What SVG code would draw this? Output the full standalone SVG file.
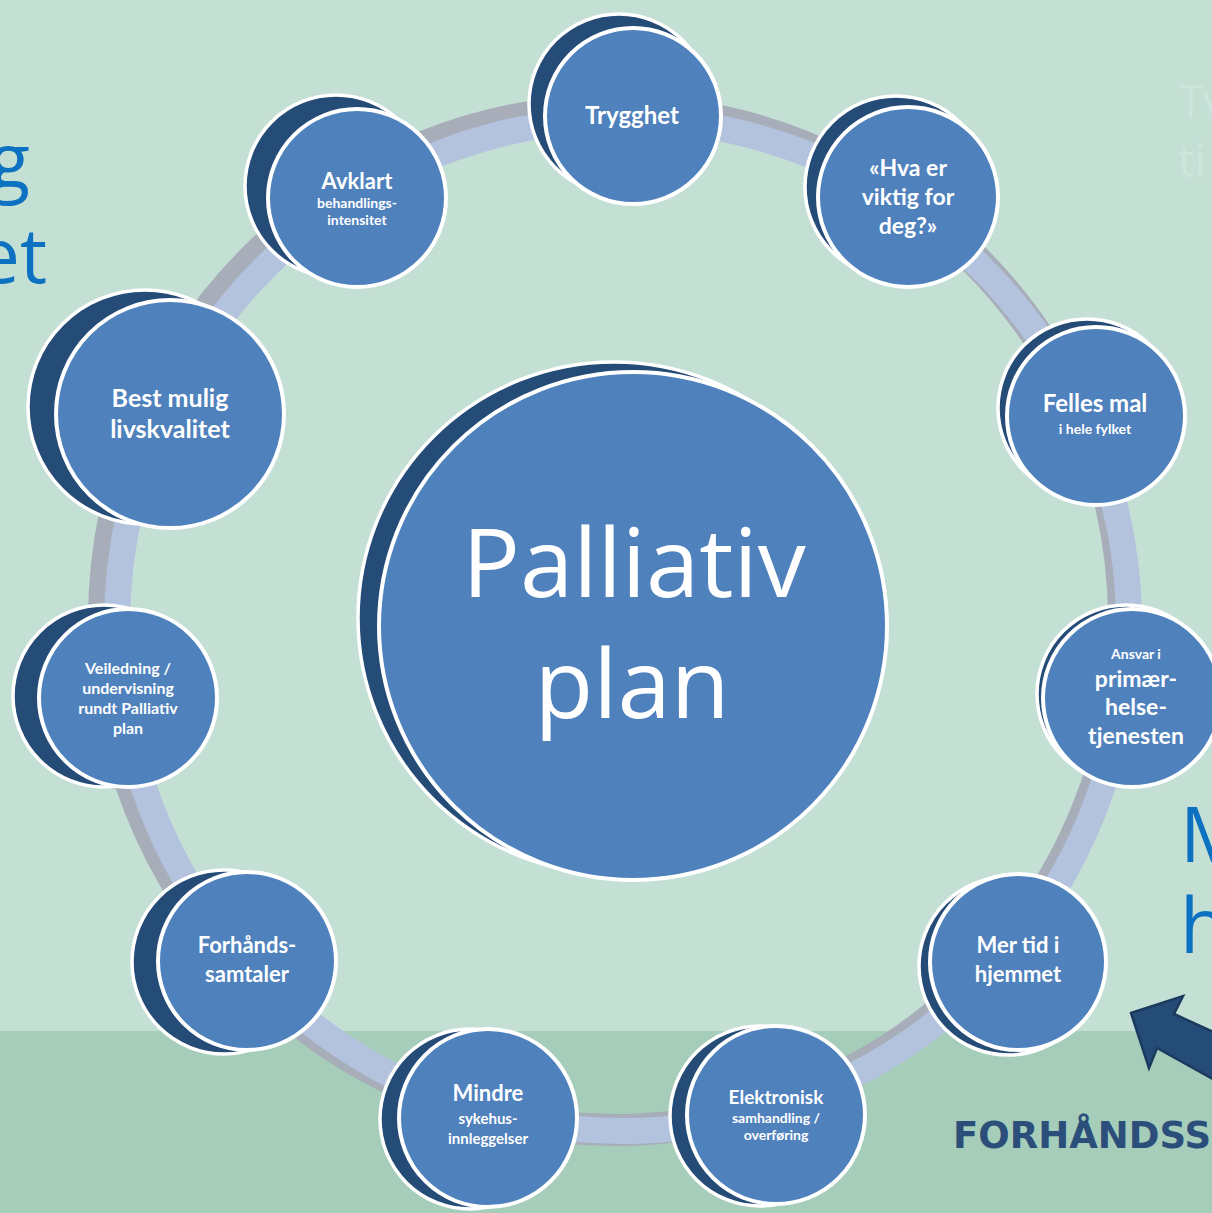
<svg xmlns="http://www.w3.org/2000/svg" width="1212" height="1213" viewBox="0 0 1212 1213">
  <style>
    .back { fill: #254b77; stroke: #ffffff; stroke-width: 3.5; }
    .front { fill: #4f81bd; stroke: #ffffff; stroke-width: 4; }
    .t { font-family: Lato, "Open Sans", "Liberation Sans", sans-serif; font-weight: 700; fill: #ffffff; text-anchor: middle; }
    .side { font-family: "Open Sans", "Liberation Sans", sans-serif; font-size: 76px; fill: #0b71c0; }
  </style>

  <!-- background -->
  <rect x="0" y="0" width="1212" height="1213" fill="#c4dfd3"/>
  <rect x="0" y="1031" width="1212" height="182" fill="#a5cdb9"/>

  <!-- partial side captions -->
  <text class="side" x="30" y="188" text-anchor="end">g</text>
  <text class="side" x="47" y="283" text-anchor="end">et</text>
  <text class="side" x="1180" y="862" font-size="70">M</text>
  <text class="side" x="1180" y="953" font-size="70">h</text>
  <text x="1178" y="118" font-family="'Open Sans', 'Liberation Sans', sans-serif" font-size="46" fill="#cde5db">Tv</text>
  <text x="1178" y="177" font-family="'Open Sans', 'Liberation Sans', sans-serif" font-size="46" fill="#cde5db">ti</text>

  <!-- connectors: the ring joining the nodes -->
  <g id="connectors">
    <circle cx="614" cy="620" r="510" fill="none" stroke="#a7adb9" stroke-width="32"/>
    <circle cx="623" cy="625" r="506" fill="none" stroke="#b3c3de" stroke-width="26"/>
  </g>

  <!-- centre node -->
  <g id="palliativ-plan">
    <circle class="back" cx="614" cy="618" r="256"/>
    <circle class="front" cx="633" cy="626" r="254"/>
    <text x="634" y="597" font-family="'Open Sans', 'Liberation Sans', sans-serif" font-size="96" fill="#ffffff" text-anchor="middle">Palliativ</text>
    <text x="632" y="718" font-family="'Open Sans', 'Liberation Sans', sans-serif" font-size="96" fill="#ffffff" text-anchor="middle">plan</text>
  </g>

  <g id="trygghet">
    <circle class="back" cx="619" cy="104" r="90"/>
    <circle class="front" cx="633" cy="116" r="88"/>
    <text class="t" x="632" y="124" font-size="24">Trygghet</text>
  </g>

  <g id="hva-er-viktig">
    <circle class="back" cx="896" cy="187" r="91"/>
    <circle class="front" cx="908" cy="197" r="90"/>
    <text class="t" x="908" y="176" font-size="23">«Hva er</text>
    <text class="t" x="908" y="205" font-size="23">viktig for</text>
    <text class="t" x="908" y="234" font-size="23">deg?»</text>
  </g>

  <g id="felles-mal">
    <circle class="back" cx="1087" cy="408" r="89"/>
    <circle class="front" cx="1096" cy="416" r="89"/>
    <text class="t" x="1095" y="412" font-size="24">Felles mal</text>
    <text class="t" x="1095" y="434" font-size="14">i hele fylket</text>
  </g>

  <g id="ansvar">
    <circle class="back" cx="1126" cy="694" r="89"/>
    <circle class="front" cx="1132" cy="698" r="89"/>
    <text class="t" x="1136" y="659" font-size="14">Ansvar i</text>
    <text class="t" x="1136" y="687" font-size="23">primær-</text>
    <text class="t" x="1136" y="715" font-size="23">helse-</text>
    <text class="t" x="1136" y="744" font-size="23">tjenesten</text>
  </g>

  <g id="mer-tid">
    <circle class="back" cx="1008" cy="966" r="89"/>
    <circle class="front" cx="1018" cy="962" r="88"/>
    <text class="t" x="1018" y="953" font-size="22">Mer tid i</text>
    <text class="t" x="1018" y="982" font-size="22">hjemmet</text>
  </g>

  <g id="elektronisk">
    <circle class="back" cx="760" cy="1116" r="90"/>
    <circle class="front" cx="776" cy="1115" r="89"/>
    <text class="t" x="776" y="1104" font-size="19">Elektronisk</text>
    <text class="t" x="776" y="1123" font-size="14">samhandling /</text>
    <text class="t" x="776" y="1140" font-size="14">overføring</text>
  </g>

  <g id="mindre">
    <circle class="back" cx="470" cy="1119" r="90"/>
    <circle class="front" cx="488" cy="1118" r="89"/>
    <text class="t" x="488" y="1101" font-size="22">Mindre</text>
    <text class="t" x="488" y="1124" font-size="15">sykehus-</text>
    <text class="t" x="488" y="1144" font-size="15">innleggelser</text>
  </g>

  <g id="forhandssamtaler">
    <circle class="back" cx="224" cy="962" r="92"/>
    <circle class="front" cx="247" cy="961" r="89"/>
    <text class="t" x="247" y="953" font-size="22">Forhånds-</text>
    <text class="t" x="247" y="982" font-size="22">samtaler</text>
  </g>

  <g id="veiledning">
    <circle class="back" cx="104" cy="696" r="91"/>
    <circle class="front" cx="128" cy="698" r="89"/>
    <text class="t" x="128" y="674" font-size="16">Veiledning /</text>
    <text class="t" x="128" y="694" font-size="16">undervisning</text>
    <text class="t" x="128" y="714" font-size="16">rundt Palliativ</text>
    <text class="t" x="128" y="734" font-size="16">plan</text>
  </g>

  <g id="best-mulig">
    <circle class="back" cx="145" cy="407" r="117"/>
    <circle class="front" cx="170" cy="414" r="114"/>
    <text class="t" x="170" y="407" font-size="25">Best mulig</text>
    <text class="t" x="170" y="438" font-size="25">livskvalitet</text>
  </g>

  <g id="avklart">
    <circle class="back" cx="336" cy="186" r="91"/>
    <circle class="front" cx="357" cy="198" r="89"/>
    <text class="t" x="357" y="189" font-size="22">Avklart</text>
    <text class="t" x="357" y="208" font-size="14">behandlings-</text>
    <text class="t" x="357" y="225" font-size="14">intensitet</text>
  </g>

  <!-- pointer arrow and caption -->
  <g id="pointer">
    <path d="M1131,1013 L1183,996 L1174,1014 L1220,1035 L1220,1083 L1157,1048 L1149,1068 Z" fill="#254b77" stroke="#1b3a5e" stroke-width="2.5" stroke-linejoin="miter"/>
  </g>
  <text x="953" y="1148" font-family="'DejaVu Sans', 'Liberation Sans', sans-serif" font-weight="700" font-size="37" fill="#2b4f7a">FORHÅNDSS</text>
</svg>
